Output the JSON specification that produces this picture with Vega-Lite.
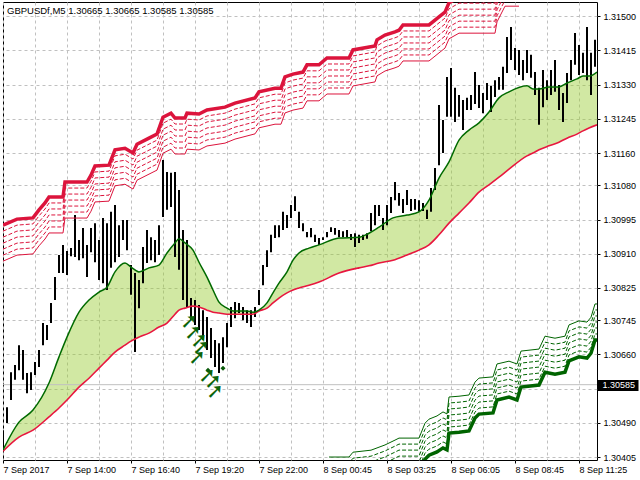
{
  "$schema": "https://vega.github.io/schema/vega-lite/v6.json",
  "description": "GBPUSDf M5 price bars with moving averages and step bands",
  "width": 594,
  "height": 458,
  "autosize": {"type": "none"},
  "padding": {"left": 3, "top": 2, "right": 43, "bottom": 20},
  "background": "#ffffff",
  "title": {
    "text": "GBPUSDf,M5  1.30665 1.30665 1.30585 1.30585",
    "anchor": "start", "frame": "group", "orient": "top", "baseline": "top",
    "offset": -3, "dx": 4, "dy": 10, "font": "Liberation Sans", "fontSize": 9.5,
    "fontWeight": "normal", "color": "#000000"
  },
  "config": {
    "view": {"stroke": "#000000", "strokeWidth": 1},
    "axis": {
      "labelFont": "Liberation Sans", "labelFontSize": 9, "labelColor": "#000000",
      "gridColor": "#C0C0C0", "gridDash": [3, 3], "gridWidth": 1,
      "domain": false, "tickColor": "#000000", "tickSize": 3, "title": null
    }
  },
  "datasets": {
    "bars": [
      {"n":0,"h":1.30472,"l":1.30423},{"n":2,"h":1.30529,"l":1.30490},{"n":4,"h":1.30616,"l":1.30547},{"n":6,"h":1.30634,"l":1.30597},
      {"n":8,"h":1.30683,"l":1.30621},{"n":10,"h":1.30671,"l":1.30597},{"n":12,"h":1.30614,"l":1.30564},{"n":14,"h":1.30616,"l":1.30572},
      {"n":16,"h":1.30641,"l":1.30609},{"n":18,"h":1.30671,"l":1.30629},{"n":20,"h":1.30738,"l":1.30683},{"n":22,"h":1.30733,"l":1.30696},
      {"n":24,"h":1.30788,"l":1.30738},{"n":26,"h":1.30852,"l":1.30795},{"n":28,"h":1.30907,"l":1.30862},{"n":30,"h":1.30932,"l":1.30862},
      {"n":32,"h":1.30917,"l":1.30857},{"n":34,"h":1.30924,"l":1.30904},{"n":36,"h":1.31006,"l":1.30902},{"n":38,"h":1.30944,"l":1.30894},
      {"n":40,"h":1.30974,"l":1.30899},{"n":42,"h":1.30932,"l":1.30852},{"n":44,"h":1.30974,"l":1.30914},{"n":46,"h":1.30986,"l":1.30889},
      {"n":48,"h":1.30944,"l":1.30845},{"n":50,"h":1.30999,"l":1.30837},{"n":52,"h":1.30986,"l":1.30820},{"n":54,"h":1.31014,"l":1.30875},
      {"n":56,"h":1.31031,"l":1.30889},{"n":58,"h":1.30981,"l":1.30902},{"n":60,"h":1.30994,"l":1.30944},{"n":62,"h":1.30994,"l":1.30919},
      {"n":64,"h":1.30882,"l":1.30808},{"n":66,"h":1.30862,"l":1.30666},{"n":68,"h":1.30845,"l":1.30775},{"n":70,"h":1.30927,"l":1.30837},
      {"n":72,"h":1.30969,"l":1.30887},{"n":74,"h":1.30951,"l":1.30894},{"n":76,"h":1.30944,"l":1.30889},{"n":78,"h":1.30981,"l":1.30907},
      {"n":80,"h":1.31143,"l":1.31001},{"n":82,"h":1.31113,"l":1.31019},{"n":84,"h":1.31111,"l":1.31026},{"n":86,"h":1.31113,"l":1.30902},
      {"n":88,"h":1.31068,"l":1.30870},{"n":90,"h":1.30969,"l":1.30795},{"n":92,"h":1.30944,"l":1.30778},{"n":94,"h":1.30800,"l":1.30745},
      {"n":96,"h":1.30795,"l":1.30733},{"n":98,"h":1.30783,"l":1.30721},{"n":100,"h":1.30770,"l":1.30696},{"n":102,"h":1.30753,"l":1.30671},
      {"n":104,"h":1.30726,"l":1.30651},{"n":106,"h":1.30696,"l":1.30629},{"n":108,"h":1.30688,"l":1.30614},{"n":110,"h":1.30703,"l":1.30639},
      {"n":112,"h":1.30738,"l":1.30678},{"n":114,"h":1.30778,"l":1.30728},{"n":116,"h":1.30790,"l":1.30750},{"n":118,"h":1.30788,"l":1.30763},
      {"n":120,"h":1.30778,"l":1.30745},{"n":122,"h":1.30770,"l":1.30738},{"n":124,"h":1.30770,"l":1.30728},{"n":126,"h":1.30778,"l":1.30753},
      {"n":128,"h":1.30820,"l":1.30783},{"n":130,"h":1.30882,"l":1.30832},{"n":132,"h":1.30919,"l":1.30877},{"n":134,"h":1.30957,"l":1.30914},
      {"n":136,"h":1.30981,"l":1.30949},{"n":138,"h":1.30981,"l":1.30951},{"n":140,"h":1.31014,"l":1.30969},{"n":142,"h":1.31006,"l":1.30974},
      {"n":144,"h":1.31031,"l":1.30999},{"n":146,"h":1.31053,"l":1.31016},{"n":148,"h":1.31014,"l":1.30974},{"n":150,"h":1.30986,"l":1.30966},
      {"n":152,"h":1.30964,"l":1.30951},{"n":154,"h":1.30974,"l":1.30951},{"n":156,"h":1.30957,"l":1.30939},{"n":158,"h":1.30949,"l":1.30932},
      {"n":160,"h":1.30951,"l":1.30944},{"n":162,"h":1.30964,"l":1.30951},{"n":164,"h":1.30976,"l":1.30964},{"n":166,"h":1.30974,"l":1.30957},
      {"n":168,"h":1.30969,"l":1.30951},{"n":170,"h":1.30966,"l":1.30951},{"n":172,"h":1.30969,"l":1.30951},{"n":174,"h":1.30959,"l":1.30944},
      {"n":176,"h":1.30961,"l":1.30927},{"n":178,"h":1.30957,"l":1.30937},{"n":180,"h":1.30957,"l":1.30944},{"n":182,"h":1.30961,"l":1.30947},
      {"n":184,"h":1.31011,"l":1.30966},{"n":186,"h":1.31031,"l":1.30981},{"n":188,"h":1.31031,"l":1.31004},{"n":190,"h":1.30999,"l":1.30969},
      {"n":192,"h":1.31031,"l":1.30981},{"n":194,"h":1.31051,"l":1.31011},{"n":196,"h":1.31088,"l":1.31043},{"n":198,"h":1.31061,"l":1.31029},
      {"n":200,"h":1.31046,"l":1.31011},{"n":202,"h":1.31068,"l":1.31031},{"n":204,"h":1.31046,"l":1.31016},{"n":206,"h":1.31046,"l":1.31019},
      {"n":208,"h":1.31043,"l":1.31014},{"n":210,"h":1.31036,"l":1.31016},{"n":212,"h":1.31019,"l":1.30996},{"n":214,"h":1.31073,"l":1.31014},
      {"n":216,"h":1.31123,"l":1.31068},{"n":218,"h":1.31279,"l":1.31130},{"n":220,"h":1.31242,"l":1.31160},{"n":222,"h":1.31349,"l":1.31250},
      {"n":224,"h":1.31371,"l":1.31250},{"n":226,"h":1.31322,"l":1.31237},{"n":228,"h":1.31304,"l":1.31250},{"n":230,"h":1.31292,"l":1.31217},
      {"n":232,"h":1.31297,"l":1.31267},{"n":234,"h":1.31304,"l":1.31267},{"n":236,"h":1.31361,"l":1.31282},{"n":238,"h":1.31329,"l":1.31272},
      {"n":240,"h":1.31309,"l":1.31259},{"n":242,"h":1.31334,"l":1.31292},{"n":244,"h":1.31327,"l":1.31262},{"n":246,"h":1.31341,"l":1.31299},
      {"n":248,"h":1.31349,"l":1.31317},{"n":250,"h":1.31374,"l":1.31317},{"n":252,"h":1.31448,"l":1.31359},{"n":254,"h":1.31473,"l":1.31391},
      {"n":256,"h":1.31421,"l":1.31366},{"n":258,"h":1.31416,"l":1.31354},{"n":260,"h":1.31391,"l":1.31341},{"n":262,"h":1.31416,"l":1.31359},
      {"n":264,"h":1.31404,"l":1.31347},{"n":266,"h":1.31361,"l":1.31304},{"n":268,"h":1.31322,"l":1.31230},{"n":270,"h":1.31366,"l":1.31274},
      {"n":272,"h":1.31341,"l":1.31292},{"n":274,"h":1.31366,"l":1.31304},{"n":276,"h":1.31391,"l":1.31312},{"n":278,"h":1.31329,"l":1.31267},
      {"n":280,"h":1.31309,"l":1.31237},{"n":282,"h":1.31359,"l":1.31284},{"n":284,"h":1.31391,"l":1.31341},{"n":286,"h":1.31458,"l":1.31379},
      {"n":288,"h":1.31428,"l":1.31354},{"n":290,"h":1.31409,"l":1.31359},{"n":292,"h":1.31473,"l":1.31341},{"n":294,"h":1.31409,"l":1.31304},
      {"n":296,"h":1.31441,"l":1.31374}
    ],
    "ma": [
      {"n":0,"g":1.30423,"r":1.30420},{"n":8,"g":1.30492,"r":1.30455},{"n":15,"g":1.30522,"r":1.30472},{"n":23,"g":1.30589,"r":1.30505},
      {"n":28,"g":1.30654,"r":1.30527},{"n":32,"g":1.30703,"r":1.30547},{"n":38,"g":1.30765,"r":1.30579},{"n":43,"g":1.30795,"r":1.30601},
      {"n":48,"g":1.30815,"r":1.30626},{"n":52,"g":1.30827,"r":1.30646},{"n":56,"g":1.30865,"r":1.30666},{"n":61,"g":1.30887,"r":1.30683},
      {"n":64,"g":1.30877,"r":1.30693},{"n":68,"g":1.30865,"r":1.30703},{"n":73,"g":1.30875,"r":1.30713},{"n":78,"g":1.30882,"r":1.30728},
      {"n":82,"g":1.30912,"r":1.30738},{"n":86,"g":1.30937,"r":1.30760},{"n":88,"g":1.30947,"r":1.30770},{"n":91,"g":1.30937,"r":1.30775},
      {"n":95,"g":1.30919,"r":1.30780},{"n":98,"g":1.30889,"r":1.30778},{"n":102,"g":1.30852,"r":1.30770},{"n":105,"g":1.30820,"r":1.30765},
      {"n":108,"g":1.30790,"r":1.30763},{"n":112,"g":1.30775,"r":1.30760},{"n":115,"g":1.30768,"r":1.30760},{"n":122,"g":1.30768,"r":1.30760},
      {"n":125,"g":1.30765,"r":1.30760},{"n":128,"g":1.30770,"r":1.30768},{"n":132,"g":1.30788,"r":1.30775},{"n":135,"g":1.30813,"r":1.30788},
      {"n":138,"g":1.30837,"r":1.30800},{"n":142,"g":1.30865,"r":1.30813},{"n":145,"g":1.30894,"r":1.30820},{"n":148,"g":1.30912,"r":1.30825},
      {"n":153,"g":1.30924,"r":1.30832},{"n":158,"g":1.30932,"r":1.30840},{"n":168,"g":1.30949,"r":1.30862},{"n":178,"g":1.30951,"r":1.30875},
      {"n":183,"g":1.30961,"r":1.30880},{"n":188,"g":1.30976,"r":1.30887},{"n":195,"g":1.30999,"r":1.30894},{"n":202,"g":1.31006,"r":1.30907},
      {"n":208,"g":1.31014,"r":1.30919},{"n":213,"g":1.31043,"r":1.30932},{"n":218,"g":1.31098,"r":1.30957},{"n":223,"g":1.31138,"r":1.30986},
      {"n":228,"g":1.31192,"r":1.31011},{"n":233,"g":1.31217,"r":1.31036},{"n":238,"g":1.31235,"r":1.31063},{"n":243,"g":1.31262,"r":1.31081},
      {"n":248,"g":1.31297,"r":1.31100},{"n":253,"g":1.31312,"r":1.31120},{"n":262,"g":1.31327,"r":1.31153},{"n":265,"g":1.31319,"r":1.31160},
      {"n":268,"g":1.31319,"r":1.31168},{"n":273,"g":1.31324,"r":1.31178},{"n":278,"g":1.31324,"r":1.31187},{"n":282,"g":1.31334,"r":1.31197},
      {"n":287,"g":1.31344,"r":1.31207},{"n":290,"g":1.31351,"r":1.31215},{"n":293,"g":1.31351,"r":1.31222},{"n":297,"g":1.31361,"r":1.31230}
    ],
    "rb": [
      {"n":0,"p":1.30981},{"n":7,"p":1.30996},{"n":15,"p":1.30999},{"n":18,"p":1.31019},{"n":21,"p":1.31036},{"n":23,"p":1.31051},
      {"n":30,"p":1.31051},{"n":31,"p":1.31088},{"n":42,"p":1.31088},{"n":44,"p":1.31105},{"n":46,"p":1.31128},{"n":53,"p":1.31130},
      {"n":56,"p":1.31168},{"n":61,"p":1.31172},{"n":65,"p":1.31160},{"n":67,"p":1.31182},{"n":73,"p":1.31197},{"n":77,"p":1.31207},
      {"n":80,"p":1.31249},{"n":84,"p":1.31259},{"n":86,"p":1.31247},{"n":91,"p":1.31247},{"n":92,"p":1.31259},{"n":98,"p":1.31257},
      {"n":102,"p":1.31267},{"n":111,"p":1.31274},{"n":116,"p":1.31284},{"n":126,"p":1.31297},{"n":128,"p":1.31312},{"n":136,"p":1.31321},
      {"n":139,"p":1.31321},{"n":141,"p":1.31349},{"n":145,"p":1.31356},{"n":150,"p":1.31361},{"n":152,"p":1.31379},{"n":158,"p":1.31379},
      {"n":162,"p":1.31396},{"n":173,"p":1.31396},{"n":175,"p":1.31416},{"n":186,"p":1.31426},{"n":187,"p":1.31441},{"n":191,"p":1.31453},
      {"n":196,"p":1.31461},{"n":198,"p":1.31465},{"n":200,"p":1.31478},{"n":213,"p":1.31478},{"n":216,"p":1.31490},{"n":218,"p":1.31498},
      {"n":221,"p":1.31510},{"n":223,"p":1.31533},{"n":228,"p":1.31547},{"n":246,"p":1.31547},{"n":247,"p":1.31575},{"n":251,"p":1.31614},
      {"n":258,"p":1.31614}
    ],
    "gb": [
      {"n":163,"p":1.30316},{"n":173,"p":1.30316},{"n":175,"p":1.30328},{"n":184,"p":1.30333},{"n":191,"p":1.30346},{"n":196,"p":1.30358},
      {"n":198,"p":1.30363},{"n":208,"p":1.30363},{"n":211,"p":1.30400},{"n":213,"p":1.30410},{"n":217,"p":1.30418},{"n":220,"p":1.30428},
      {"n":222,"p":1.30423},{"n":223,"p":1.30465},{"n":228,"p":1.30467},{"n":233,"p":1.30470},{"n":236,"p":1.30502},{"n":238,"p":1.30512},
      {"n":245,"p":1.30515},{"n":247,"p":1.30547},{"n":253,"p":1.30554},{"n":257,"p":1.30547},{"n":259,"p":1.30579},{"n":268,"p":1.30584},
      {"n":271,"p":1.30616},{"n":276,"p":1.30611},{"n":281,"p":1.30616},{"n":283,"p":1.30644},{"n":288,"p":1.30654},{"n":292,"p":1.30651},
      {"n":294,"p":1.30663},{"n":296,"p":1.30696},{"n":297,"p":1.30696}
    ],
    "arrows": [
      {"n":93,"p":1.30741},{"n":95,"p":1.30713},{"n":98,"p":1.30693},{"n":99,"p":1.30676},
      {"n":97,"p":1.30651},{"n":102,"p":1.30606},{"n":105,"p":1.30591},{"n":106,"p":1.30567}
    ],
    "dots": [
      {"n":102.5,"p":1.30621},{"n":110,"p":1.30626}
    ],
    "current": [
      {"p":1.30585}
    ]
  },
  "encoding": {
    "x": {
      "field": "n", "type": "quantitative",
      "scale": {"domain": [0, 297], "nice": false, "zero": false},
      "axis": {
        "values": [0,16,32,48,64,80,96,112,128,144,160,176,192,208,224,240,256,272,288],
        "tickCount": 40,
        "labelExpr": "datum.value % 32 === 0 ? ['7 Sep 2017','7 Sep 14:00','7 Sep 16:40','7 Sep 19:20','7 Sep 22:00','8 Sep 00:45','8 Sep 03:25','8 Sep 06:05','8 Sep 08:45','8 Sep 11:25'][datum.value / 32] : ''",
        "labelAlign": "left", "labelFlush": false, "labelPadding": 2, "labelOverlap": false,
        "tickColor": {"condition": {"test": "datum.value % 32 === 0", "value": "#000000"}, "value": "transparent"}
      }
    }
  },
  "layer": [
    {
      "data": {"name": "ma"},
      "mark": {"type": "area", "color": "#9ACD32", "opacity": 0.45, "interpolate": "monotone", "clip": true},
      "encoding": {
        "y": {
          "field": "g", "type": "quantitative",
          "scale": {"domain": [1.30398, 1.31535], "nice": false, "zero": false},
          "axis": {
            "orient": "right",
            "values": [1.30405,1.3049,1.30575,1.30585,1.3066,1.30745,1.30825,1.3091,1.30995,1.3108,1.3116,1.31245,1.3133,1.31415,1.315],
            "tickCount": 40,
            "labelExpr": "format(datum.value, '.5f')",
            "labelOverlap": false,
            "labelAlign": "left",
            "tickWidth": {"condition": {"test": "datum.value === 1.30585", "value": 11}, "value": 1},
            "tickSize": {"condition": {"test": "datum.value === 1.30585", "value": 41}, "value": 3},
            "labelPadding": {"condition": {"test": "datum.value === 1.30585", "value": -36}, "value": 3},
            "labelColor": {"condition": {"test": "datum.value === 1.30585", "value": "#ffffff"}, "value": "#000000"},
            "labelOpacity": {"condition": {"test": "datum.value === 1.30575", "value": 0}, "value": 1},
            "gridOpacity": {"condition": {"test": "datum.value === 1.30585", "value": 0}, "value": 1}
          }
        },
        "y2": {"field": "r"}
      }
    },
    {
      "data": {"name": "current"},
      "mark": {"type": "rule", "color": "#C0C0C0", "strokeWidth": 1},
      "encoding": {"x": null, "y": {"field": "p", "type": "quantitative"}}
    },
    {
      "data": {"name": "bars"},
      "mark": {"type": "rule", "color": "#000000", "strokeWidth": 2, "clip": true},
      "encoding": {"y": {"field": "h", "type": "quantitative"}, "y2": {"field": "l"}}
    },
    {
      "data": {"name": "ma"},
      "mark": {"type": "line", "color": "#E8173F", "strokeWidth": 1.6, "interpolate": "monotone", "clip": true},
      "encoding": {"y": {"field": "r", "type": "quantitative"}}
    },
    {
      "data": {"name": "ma"},
      "mark": {"type": "line", "color": "#006A00", "strokeWidth": 1.5, "interpolate": "monotone", "clip": true},
      "encoding": {"y": {"field": "g", "type": "quantitative"}}
    },
    {
      "data": {"name": "rb"},
      "mark": {"type": "line", "color": "#DC143C", "strokeWidth": 1, "yOffset": 36, "clip": true},
      "encoding": {"y": {"field": "p", "type": "quantitative"}}
    },
    {
      "data": {"name": "rb"},
      "mark": {"type": "line", "color": "#DC143C", "strokeWidth": 1, "strokeDash": [4, 2], "yOffset": 6, "clip": true},
      "encoding": {"y": {"field": "p", "type": "quantitative"}}
    },
    {
      "data": {"name": "rb"},
      "mark": {"type": "line", "color": "#DC143C", "strokeWidth": 1, "strokeDash": [4, 2], "yOffset": 12, "clip": true},
      "encoding": {"y": {"field": "p", "type": "quantitative"}}
    },
    {
      "data": {"name": "rb"},
      "mark": {"type": "line", "color": "#DC143C", "strokeWidth": 1, "strokeDash": [4, 2], "yOffset": 18, "clip": true},
      "encoding": {"y": {"field": "p", "type": "quantitative"}}
    },
    {
      "data": {"name": "rb"},
      "mark": {"type": "line", "color": "#DC143C", "strokeWidth": 1, "strokeDash": [4, 2], "yOffset": 24, "clip": true},
      "encoding": {"y": {"field": "p", "type": "quantitative"}}
    },
    {
      "data": {"name": "rb"},
      "mark": {"type": "line", "color": "#DC143C", "strokeWidth": 1, "strokeDash": [4, 2], "yOffset": 30, "clip": true},
      "encoding": {"y": {"field": "p", "type": "quantitative"}}
    },
    {
      "data": {"name": "rb"},
      "mark": {"type": "line", "color": "#DC143C", "strokeWidth": 3.5, "clip": true},
      "encoding": {"y": {"field": "p", "type": "quantitative"}}
    },
    {
      "data": {"name": "gb"},
      "mark": {"type": "line", "color": "#006400", "strokeWidth": 1, "yOffset": -36, "clip": true},
      "encoding": {"y": {"field": "p", "type": "quantitative"}}
    },
    {
      "data": {"name": "gb"},
      "mark": {"type": "line", "color": "#006400", "strokeWidth": 1, "strokeDash": [4, 2], "yOffset": -6, "clip": true},
      "encoding": {"y": {"field": "p", "type": "quantitative"}}
    },
    {
      "data": {"name": "gb"},
      "mark": {"type": "line", "color": "#006400", "strokeWidth": 1, "strokeDash": [4, 2], "yOffset": -12, "clip": true},
      "encoding": {"y": {"field": "p", "type": "quantitative"}}
    },
    {
      "data": {"name": "gb"},
      "mark": {"type": "line", "color": "#006400", "strokeWidth": 1, "strokeDash": [4, 2], "yOffset": -18, "clip": true},
      "encoding": {"y": {"field": "p", "type": "quantitative"}}
    },
    {
      "data": {"name": "gb"},
      "mark": {"type": "line", "color": "#006400", "strokeWidth": 1, "strokeDash": [4, 2], "yOffset": -24, "clip": true},
      "encoding": {"y": {"field": "p", "type": "quantitative"}}
    },
    {
      "data": {"name": "gb"},
      "mark": {"type": "line", "color": "#006400", "strokeWidth": 1, "strokeDash": [4, 2], "yOffset": -30, "clip": true},
      "encoding": {"y": {"field": "p", "type": "quantitative"}}
    },
    {
      "data": {"name": "gb"},
      "mark": {"type": "line", "color": "#006400", "strokeWidth": 3.5, "clip": true},
      "encoding": {"y": {"field": "p", "type": "quantitative"}}
    },
    {
      "data": {"name": "arrows"},
      "mark": {"type": "text", "text": "➚", "font": "DejaVu Sans", "fontSize": 21, "fontWeight": "bold", "color": "#0A640A", "align": "center", "baseline": "middle"},
      "encoding": {"y": {"field": "p", "type": "quantitative"}}
    },
    {
      "data": {"name": "dots"},
      "mark": {"type": "point", "shape": "diamond", "filled": true, "size": 25, "color": "#0A5A0A", "opacity": 1},
      "encoding": {"y": {"field": "p", "type": "quantitative"}}
    }
  ]
}
